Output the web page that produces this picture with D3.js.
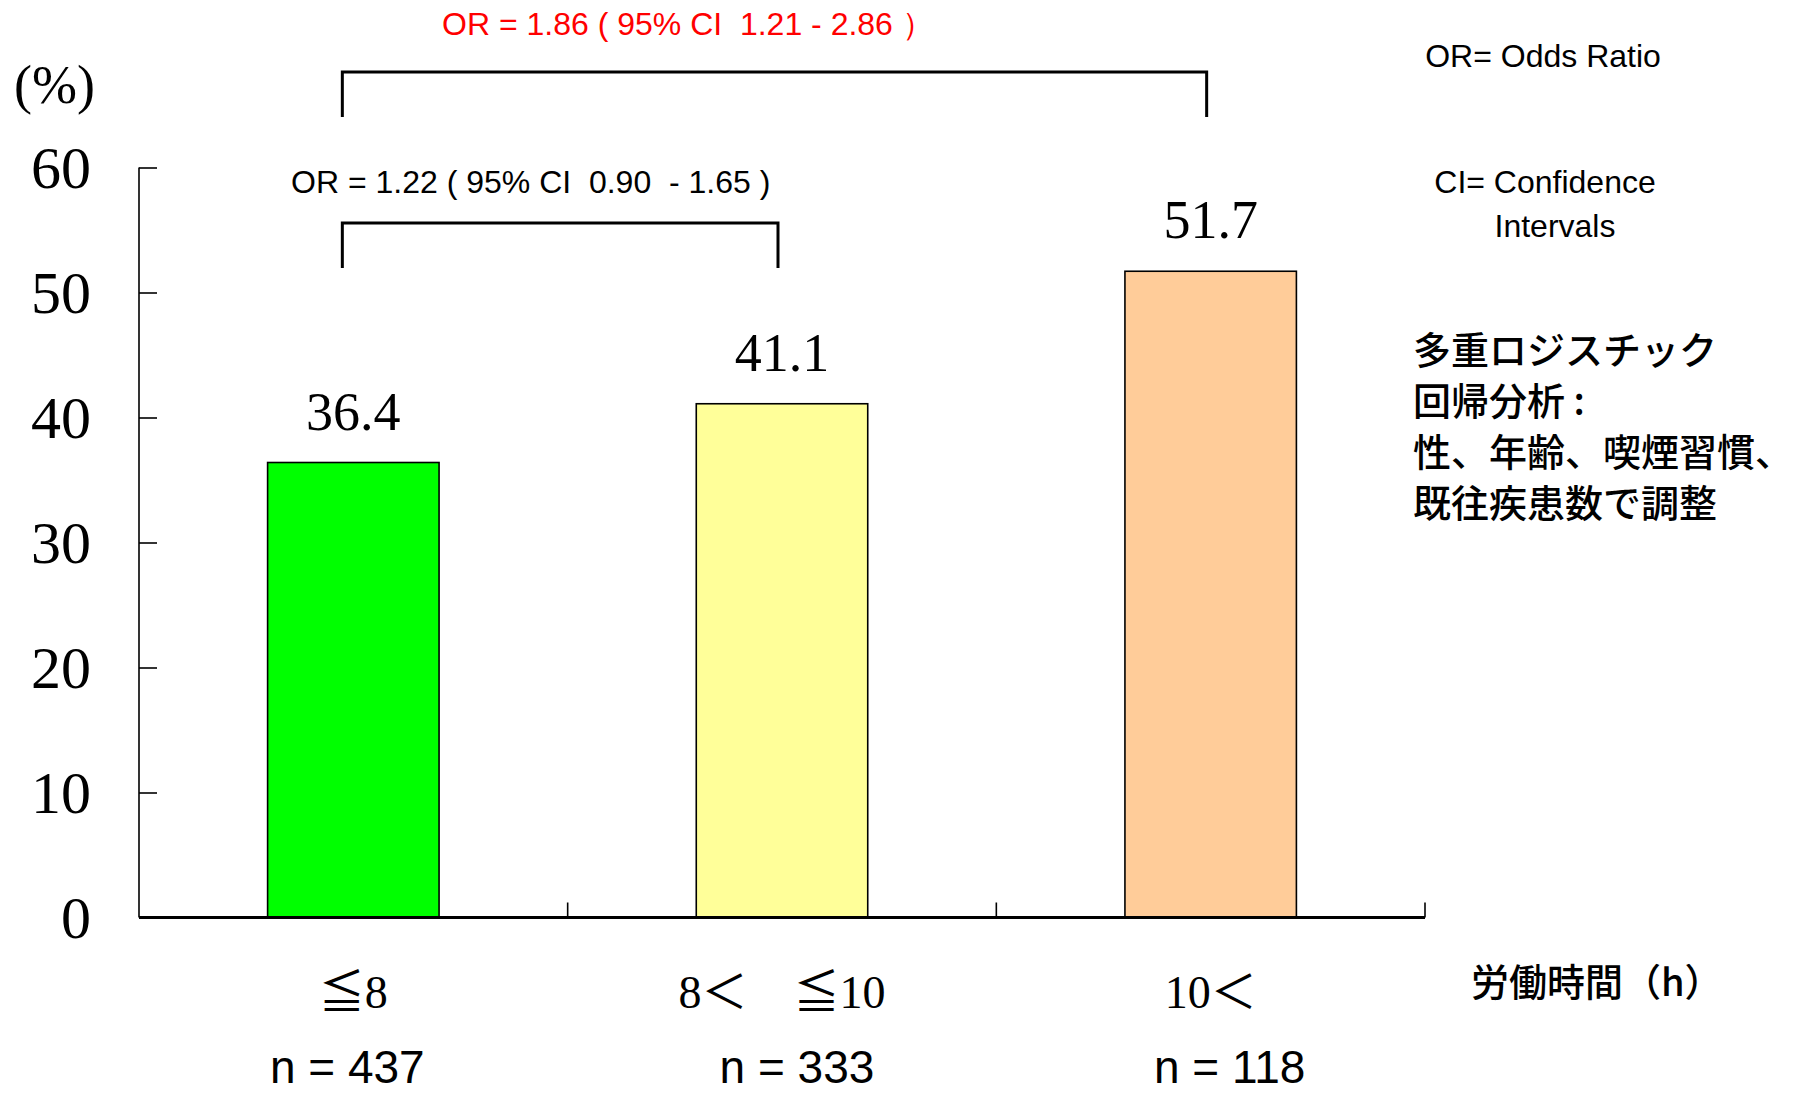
<!DOCTYPE html>
<html>
<head>
<meta charset="utf-8">
<script src="https://cdn.jsdelivr.net/npm/d3@7"></script>
<style>
  html, body { margin: 0; padding: 0; background: #fff; }
  svg { display: block; }
  text.pre { white-space: pre; }
</style>
</head>
<body>
<script>
// Working hours groups and the share (%) in each group
const categories = ["≦8", "8＜　≦10", "10＜"];
const values = [36.4, 41.1, 51.7];
const sampleSizes = ["n = 437", "n = 333", "n = 118"];
const barColors = ["#00ff00", "#ffff99", "#ffcc99"];
const yTicks = [0, 10, 20, 30, 40, 50, 60];

// Odds-ratio comparison brackets
const comparisons = [
  { from: 0, to: 2, label: "OR = 1.86 ( 95% CI  1.21 - 2.86 ）", color: "#ff0000" },
  { from: 0, to: 1, label: "OR = 1.22 ( 95% CI  0.90  - 1.65 )", color: "#000000" }
];
const notes = ["OR= Odds Ratio", "CI= Confidence", "Intervals"];
const methodLines = ["多重ロジスチック", "回帰分析 :", "性、年齢、喫煙習慣、", "既往疾患数で調整"];
const xTitle = "労働時間（h）";
const yTitle = "(%)";

const W = 1798, H = 1094;
const svg = d3.select("body").append("svg").attr("width", W).attr("height", H);

const plotLeft = 139, plotRight = 1425, plotTop = 167.5, plotBottom = 917.5;
const x = d3.scaleBand().domain(d3.range(categories.length)).range([plotLeft, plotRight]).padding(0);
const y = d3.scaleLinear().domain([0, 60]).range([plotBottom, plotTop]);
const barW = x.bandwidth() * 0.4;
const cx = i => x(i) + x.bandwidth() / 2;

const serif = "'Liberation Serif', 'Times New Roman', serif";
const sans = "'Liberation Sans', Arial, sans-serif";
const cjk = "'Noto Sans CJK JP', 'Noto Sans', sans-serif";

// Bars
svg.append("g").selectAll("rect").data(values).join("rect")
  .attr("x", (d, i) => cx(i) - barW / 2)
  .attr("y", d => y(d))
  .attr("width", barW)
  .attr("height", d => y(0) - y(d))
  .attr("fill", (d, i) => barColors[i])
  .attr("stroke", "#000")
  .attr("stroke-width", 1.6);

// Value labels above bars
svg.append("g").selectAll("text").data(values).join("text")
  .attr("x", (d, i) => cx(i))
  .attr("y", d => y(d) - 33)
  .attr("text-anchor", "middle")
  .attr("font-family", serif)
  .attr("font-size", 54)
  .text(d => d.toFixed(1));

// Y axis: inward ticks, labels on the left
const yAxis = svg.append("g").attr("transform", `translate(${plotLeft},0)`)
  .call(d3.axisRight(y).tickValues(yTicks).tickSize(18).tickFormat(""));
yAxis.select(".domain").attr("d", `M0,${plotTop}V${plotBottom}`).attr("stroke", "#000").attr("stroke-width", 1.6);
yAxis.selectAll(".tick line").attr("stroke", "#000").attr("stroke-width", 1.6);

svg.append("g").selectAll("text").data(yTicks).join("text")
  .attr("x", plotLeft - 48)
  .attr("y", d => y(d))
  .attr("dy", "0.34em")
  .attr("text-anchor", "end")
  .attr("font-family", serif)
  .attr("font-size", 60)
  .text(d => d);

// X axis baseline with upward ticks at category boundaries
const xAxis = svg.append("g").attr("transform", `translate(0,${plotBottom})`);
xAxis.append("line")
  .attr("x1", plotLeft).attr("x2", plotRight)
  .attr("stroke", "#000").attr("stroke-width", 3);
xAxis.selectAll("line.tk").data(d3.range(1, categories.length + 1)).join("line")
  .attr("class", "tk")
  .attr("x1", i => plotLeft + i * x.bandwidth()).attr("x2", i => plotLeft + i * x.bandwidth())
  .attr("y1", 0).attr("y2", -15)
  .attr("stroke", "#000").attr("stroke-width", 1.6);

// Category labels and sample sizes
svg.append("g").selectAll("text").data(categories).join("text")
  .attr("class", "pre")
  .attr("x", (d, i) => cx(i))
  .attr("y", 1008)
  .attr("text-anchor", "middle")
  .attr("font-family", serif + ", " + cjk)
  .attr("font-size", 46)
  .text(d => d);

const nShift = [-6, 15, 19];
svg.append("g").selectAll("text").data(sampleSizes).join("text")
  .attr("x", (d, i) => cx(i) + nShift[i])
  .attr("y", 1083)
  .attr("text-anchor", "middle")
  .attr("font-family", sans)
  .attr("font-size", 46)
  .text(d => d);

// Axis titles
svg.append("text")
  .attr("x", 14).attr("y", 103)
  .attr("font-family", serif)
  .attr("font-size", 54)
  .text(yTitle);

svg.append("text")
  .attr("x", 1471).attr("y", 996)
  .attr("font-family", cjk)
  .attr("font-weight", 500)
  .attr("font-size", 38)
  .text(xTitle);

// Comparison brackets with odds-ratio labels
const bracketLevels = [{ line: 72, foot: 117, text: 35 }, { line: 223, foot: 268, text: 193 }];
comparisons.forEach((c, k) => {
  const lv = bracketLevels[k];
  const x1 = cx(c.from) - 11, x2 = cx(c.to) - 4;
  svg.append("path")
    .attr("d", `M${x1},${lv.foot}V${lv.line}H${x2}V${lv.foot}`)
    .attr("fill", "none")
    .attr("stroke", "#000")
    .attr("stroke-width", 3);
  svg.append("text")
    .attr("class", "pre")
    .attr("x", k === 0 ? 442 : 291)
    .attr("y", lv.text)
    .attr("font-family", sans)
    .attr("font-size", 32)
    .attr("fill", c.color)
    .text(c.label);
});

// Abbreviation notes
const noteY = [67, 193, 237];
svg.append("g").selectAll("text").data(notes).join("text")
  .attr("x", (d, i) => i === 0 ? 1543 : (i === 1 ? 1545 : 1555))
  .attr("y", (d, i) => noteY[i])
  .attr("text-anchor", "middle")
  .attr("font-family", sans)
  .attr("font-size", 32)
  .text(d => d);

// Adjustment method text
svg.append("g").selectAll("text").data(methodLines).join("text")
  .attr("class", "pre")
  .attr("x", 1413)
  .attr("y", (d, i) => 364 + i * 51)
  .attr("font-family", cjk)
  .attr("font-weight", 500)
  .attr("font-size", 38)
  .text(d => d);
</script>
</body>
</html>
